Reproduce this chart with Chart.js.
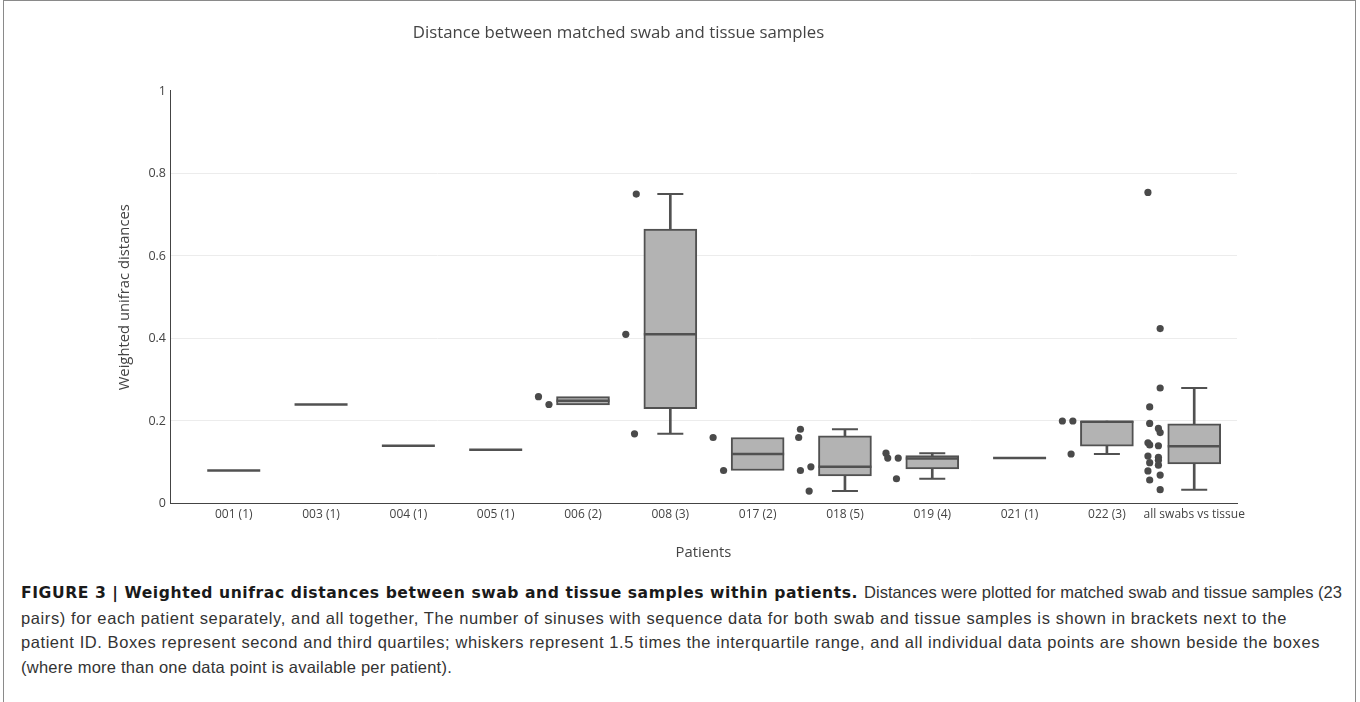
<!DOCTYPE html>
<html>
<head>
<meta charset="utf-8">
<script src="https://cdn.jsdelivr.net/npm/chart.js@4.4.1/dist/chart.umd.min.js"></script>
<style>
  html, body { margin: 0; padding: 0; background: #fff; }
  body { width: 1360px; height: 702px; position: relative; overflow: hidden; }
  #frame { position: absolute; left: 3px; top: 0; width: 1353px; height: 702px;
           border: 1px solid #8a8a8a; border-bottom: none; box-sizing: border-box; }
  #wrap { position: absolute; left: 0; top: 0; width: 1360px; height: 580px; }
  #caption { position: absolute; left: 21px; top: 580px;
             font-family: "Liberation Sans", Arial, sans-serif; font-size: 16.5px;
             color: #333; line-height: 24.6px; }
  #caption div { white-space: nowrap; }
  #caption b { color: #1a1a1a; font-family: "DejaVu Sans", "Liberation Sans", sans-serif; font-size: 15.6px; }
  #caption span { display: inline-block; white-space: pre; }
</style>
</head>
<body>
<div id="frame"></div>
<div id="wrap"><canvas id="c" width="1360" height="580"></canvas></div>
<div id="caption">
  <div><span data-w="843"><b>FIGURE 3 | Weighted unifrac distances between swab and tissue samples within patients. </b></span><span data-w="478">Distances were plotted for matched swab and tissue samples (23</span></div>
  <div><span data-w="1266">pairs) for each patient separately, and all together, The number of sinuses with sequence data for both swab and tissue samples is shown in brackets next to the</span></div>
  <div><span data-w="1299">patient ID. Boxes represent second and third quartiles; whiskers represent 1.5 times the interquartile range, and all individual data points are shown beside the boxes</span></div>
  <div><span data-w="431">(where more than one data point is available per patient).</span></div>
</div>
<script>
// ---- data ----
const categories = ['001 (1)', '003 (1)', '004 (1)', '005 (1)', '006 (2)', '008 (3)',
                    '017 (2)', '018 (5)', '019 (4)', '021 (1)', '022 (3)', 'all swabs vs tissue'];
const q1      = [0.08, 0.24, 0.14, 0.13, 0.239, 0.230, 0.080, 0.067, 0.084, 0.11, 0.139, 0.096];
const median  = [0.08, 0.24, 0.14, 0.13, 0.249, 0.410, 0.120, 0.089, 0.109, 0.11, 0.198, 0.139];
const q3      = [0.08, 0.24, 0.14, 0.13, 0.259, 0.665, 0.160, 0.164, 0.116, 0.11, 0.200, 0.193];
const whiskerLow  = [null, null, null, null, null, 0.169, null, 0.030, 0.060, null, 0.120, 0.0335];
const whiskerHigh = [null, null, null, null, null, 0.750, null, 0.180, 0.122, null, null, 0.280];
const pointValues = [
  [], [], [], [],
  [0.259, 0.240],
  [0.410, 0.750, 0.169],
  [0.160, 0.080],
  [0.080, 0.089, 0.030, 0.160, 0.180],
  [0.110, 0.110, 0.060, 0.122],
  [],
  [0.200, 0.200, 0.120],
  [0.194, 0.172, 0.140, 0.147, 0.142, 0.069, 0.093, 0.115, 0.099, 0.0335,
   0.105, 0.079, 0.057, 0.280, 0.182, 0.754, 0.234, 0.424, 0.112]
];
const yTicks = [0, 0.2, 0.4, 0.6, 0.8, 1];

// ---- caption fitting (letter-spacing so each line spans the same width as the figure) ----
document.querySelectorAll('#caption span[data-w]').forEach(sp => {
  const target = parseFloat(sp.dataset.w);
  const natural = sp.getBoundingClientRect().width;
  const n = sp.textContent.length;
  sp.style.letterSpacing = ((target - natural) / n) + 'px';
});

// ---- styling ----
const JITTER = [-0.51, -0.39, -0.41, -0.53];   // points drawn beside the box (left side)
const LINE = '#515151';
const FILL = '#b3b3b3';
const DOT = '#4a4a4a';
const TXT = '#444';
const FONT = '"Open Sans", sans-serif';

const whiskerData = [], capData = [], boxData = [], medData = [], ptData = [];
categories.forEach((c, i) => {
  if (whiskerLow[i] !== null || whiskerHigh[i] !== null) {
    const lo = whiskerLow[i] !== null ? whiskerLow[i] : q1[i];
    const hi = whiskerHigh[i] !== null ? whiskerHigh[i] : q3[i];
    whiskerData.push({ x: i, y: [lo, hi] });
    if (whiskerLow[i] !== null) capData.push({ x: i, y: whiskerLow[i] });
    if (whiskerHigh[i] !== null) capData.push({ x: i, y: whiskerHigh[i] });
  }
  if (q3[i] > q1[i]) boxData.push({ x: i, y: [q1[i], q3[i]] });
  medData.push({ x: i, y: median[i] });
  pointValues[i].forEach((v, k) => ptData.push({ x: i + JITTER[k % JITTER.length], y: v }));
});

Chart.defaults.font.family = FONT;

new Chart(document.getElementById('c'), {
  type: 'bar',
  data: {
    datasets: [
      { type: 'bar', data: whiskerData, backgroundColor: LINE, borderWidth: 0,
        barThickness: 2, grouped: false, order: 5 },
      { type: 'bar', data: boxData, backgroundColor: FILL, borderColor: LINE, borderWidth: 2,
        borderSkipped: false, barThickness: 53, grouped: false, order: 4 },
      { type: 'scatter', data: capData, pointStyle: 'line', pointRadius: 13,
        borderColor: LINE, borderWidth: 2, order: 3 },
      { type: 'scatter', data: medData, pointStyle: 'line', pointRadius: 26.5,
        borderColor: LINE, borderWidth: 2.5, order: 2 },
      { type: 'scatter', data: ptData, pointStyle: 'circle', pointRadius: 3.6,
        backgroundColor: DOT, borderWidth: 0, order: 1 }
    ]
  },
  options: {
    responsive: false,
    animation: false,
    events: [],
    layout: { padding: { left: 0, right: 123, top: 0, bottom: 0 } },
    plugins: {
      legend: { display: false },
      tooltip: { enabled: false },
      title: {
        display: true,
        text: 'Distance between matched swab and tissue samples',
        color: TXT,
        font: { family: FONT, size: 16.8, weight: 'normal' },
        padding: { top: 22.9, bottom: 47.9 }
      }
    },
    scales: {
      x: {
        type: 'linear',
        min: -0.73, max: 11.49,
        offset: false,
        afterBuildTicks: s => { s.ticks = categories.map((c, i) => ({ value: i })); },
        afterFit: s => { s.height = 76.5; },
        ticks: { callback: v => categories[v], autoSkip: false, maxRotation: 0,
                 padding: 4, color: TXT, font: { family: FONT, size: 12 } },
        grid: { display: false, drawTicks: false },
        border: { display: true, color: TXT, width: 1 },
        title: { display: true, text: 'Patients', color: TXT,
                 font: { family: FONT, size: 14.8 }, padding: { top: 0, bottom: 18.1 } }
      },
      y: {
        min: 0, max: 1,
        afterBuildTicks: s => { s.ticks = yTicks.map(v => ({ value: v })); },
        afterFit: s => { s.width = 170; },
        ticks: { callback: v => String(v), padding: 4, color: TXT,
                 font: { family: FONT, size: 12.5 } },
        grid: { drawTicks: false, lineWidth: 1,
                color: ctx => (ctx.tick && (ctx.tick.value === 0 || ctx.tick.value === 1)) ? 'rgba(0,0,0,0)' : '#ececec' },
        border: { display: true, color: TXT, width: 1 },
        title: { display: true, text: 'Weighted unifrac distances', color: TXT,
                 font: { family: FONT, size: 14.8 }, padding: { top: 116.1, bottom: 0 } }
      }
    }
  }
});
</script>
</body>
</html>
